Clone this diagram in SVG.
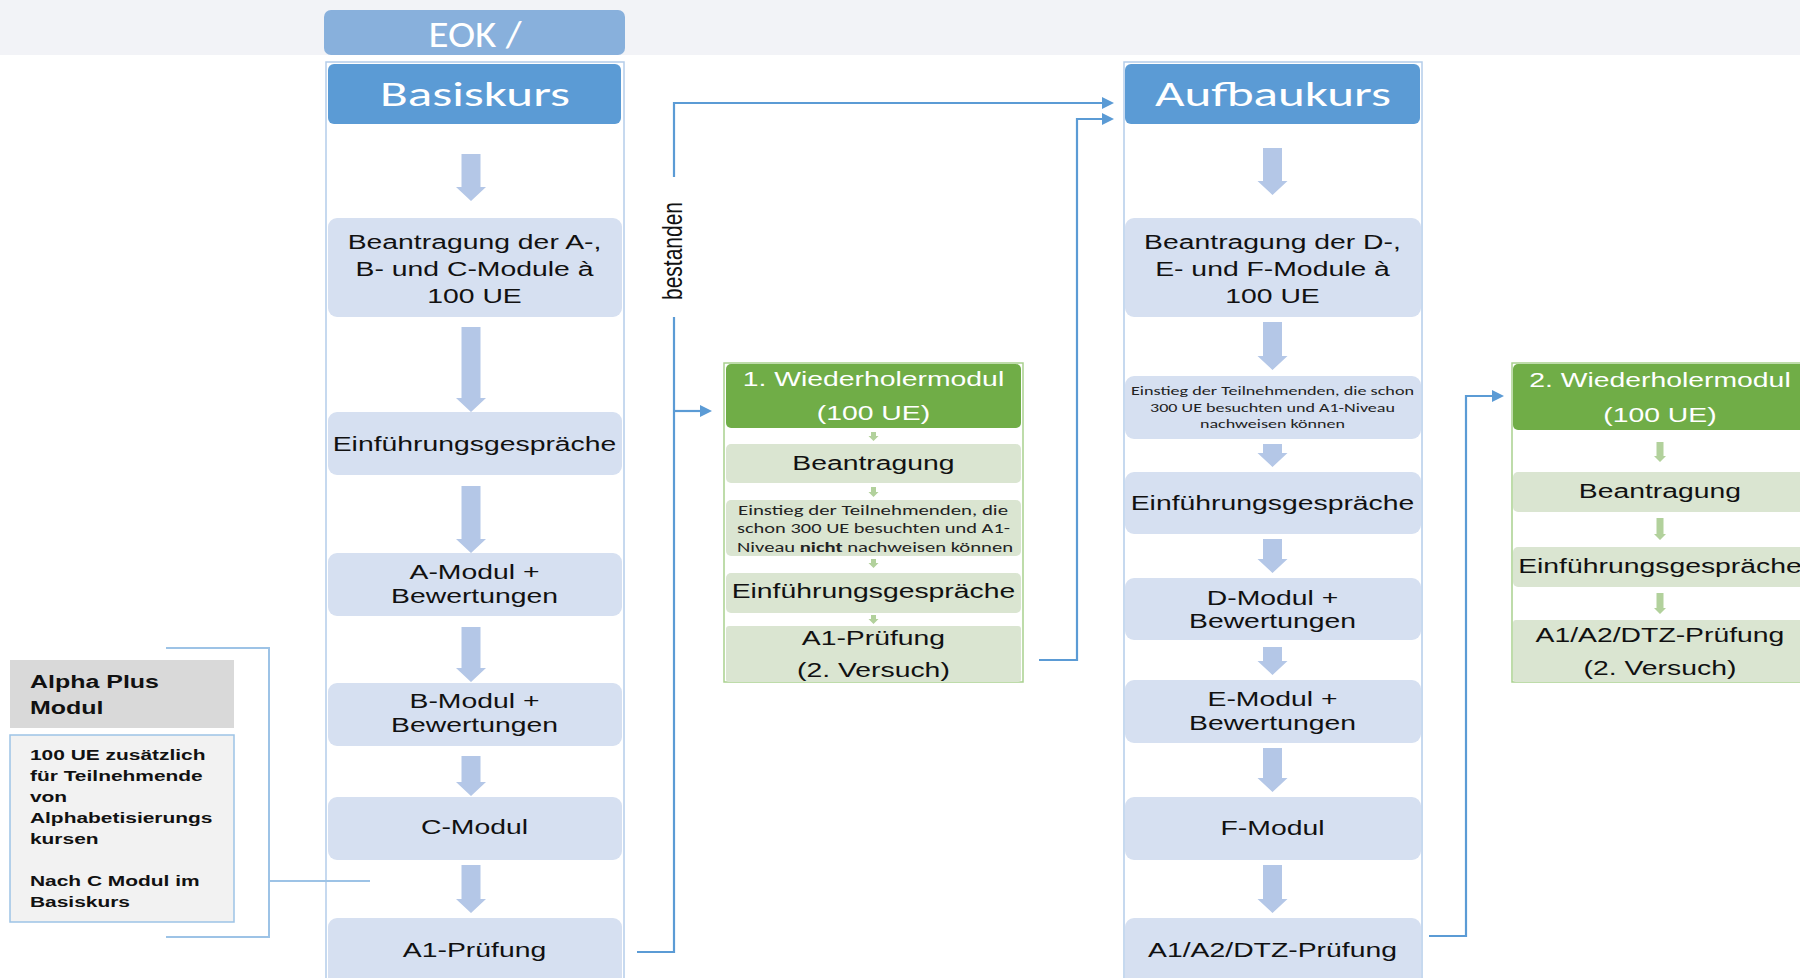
<svg xmlns="http://www.w3.org/2000/svg" width="1800" height="978" viewBox="0 0 1800 978">
<defs>
<style>
.t{font-family:"Liberation Sans",Arial,sans-serif;font-size:21px;fill:#111;text-anchor:middle}
.tw{font-family:"Liberation Sans",Arial,sans-serif;font-size:21px;fill:#fff;text-anchor:middle}
.h{font-family:Carlito,Lato,"Open Sans",sans-serif;fill:#fff;text-anchor:middle}
.s{font-family:Carlito,Lato,"Open Sans",sans-serif;fill:#222;text-anchor:middle}
.a{font-family:"Liberation Sans",Arial,sans-serif;font-weight:bold;fill:#111}
.box{fill:#d6e0f1}
.gbox{fill:#dae5d1}
.col{fill:none;stroke:#b4cdea;stroke-width:1.5}
.gcol{fill:#fff;stroke:#a9d18e;stroke-width:1.5}
.blk{fill:#b4c7e7}
.gar{fill:#b2d19c}
.con{fill:none;stroke:#5b9bd5;stroke-width:2.2}
.brk{fill:none;stroke:#9dc3e6;stroke-width:2}
</style>
<marker id="ah" markerUnits="userSpaceOnUse" markerWidth="12" markerHeight="12" refX="4" refY="6" orient="auto">
<path d="M0,0 L12,6 L0,12 Z" fill="#5b9bd5"/>
</marker>
</defs>
<rect x="0" y="0" width="1800" height="978" fill="#fff"/>
<rect x="0" y="0" width="1800" height="55" fill="#f2f3f7"/>

<g id="eok">
<rect x="324" y="10" width="301" height="45" rx="7" fill="#88b0dc"/>
<text class="h" x="475" y="47" font-size="36" textLength="93" lengthAdjust="spacingAndGlyphs">EOK /</text>
</g>

<g id="basiskurs">
<rect class="col" x="326" y="62" width="298" height="940"/>
<rect x="328" y="64" width="293" height="60" rx="6" fill="#5b9bd5"/>
<text class="h" x="475" y="106" font-size="34" textLength="190" lengthAdjust="spacingAndGlyphs">Basiskurs</text>
</g>

<g id="b1">
<rect class="box" x="328" y="218" width="294" height="99" rx="9"/>
<g transform="scale(1.35 1)">
<text class="t" x="351.5" y="249">Beantragung der A-,</text>
<text class="t" x="351.5" y="276">B- und C-Module à</text>
<text class="t" x="351.5" y="303">100 UE</text>
</g>
</g>
<g id="b2">
<rect class="box" x="328" y="412" width="294" height="63" rx="9"/>
<g transform="scale(1.35 1)"><text class="t" x="351.5" y="451">Einführungsgespräche</text></g>
</g>
<g id="b3">
<rect class="box" x="328" y="553" width="294" height="63" rx="9"/>
<g transform="scale(1.35 1)">
<text class="t" x="351.5" y="579">A-Modul +</text>
<text class="t" x="351.5" y="603">Bewertungen</text>
</g>
</g>
<g id="b4">
<rect class="box" x="328" y="683" width="294" height="63" rx="9"/>
<g transform="scale(1.35 1)">
<text class="t" x="351.5" y="708">B-Modul +</text>
<text class="t" x="351.5" y="732">Bewertungen</text>
</g>
</g>
<g id="b5">
<rect class="box" x="328" y="797" width="294" height="63" rx="9"/>
<g transform="scale(1.35 1)"><text class="t" x="351.5" y="834">C-Modul</text></g>
</g>
<g id="b6">
<rect class="box" x="328" y="918" width="294" height="80" rx="9"/>
<g transform="scale(1.35 1)"><text class="t" x="351.5" y="957">A1-Prüfung</text></g>
</g>

<g id="aufbaukurs">
<rect class="col" x="1124" y="62" width="298" height="940"/>
<rect x="1125" y="64" width="295" height="60" rx="6" fill="#5b9bd5"/>
<text class="h" x="1273" y="106" font-size="34" textLength="236" lengthAdjust="spacingAndGlyphs">Aufbaukurs</text>
</g>

<g id="a1">
<rect class="box" x="1125" y="218" width="296" height="99" rx="9"/>
<g transform="scale(1.35 1)">
<text class="t" x="942.6" y="249">Beantragung der D-,</text>
<text class="t" x="942.6" y="276">E- und F-Module à</text>
<text class="t" x="942.6" y="303">100 UE</text>
</g>
</g>
<g id="a2">
<rect class="box" x="1125" y="376" width="296" height="63" rx="9"/>
<text class="s" x="1272.5" y="395" font-size="13" textLength="283" lengthAdjust="spacingAndGlyphs">Einstieg der Teilnehmenden, die schon</text>
<text class="s" x="1272.5" y="411.5" font-size="13" textLength="245" lengthAdjust="spacingAndGlyphs">300 UE besuchten und A1-Niveau</text>
<text class="s" x="1272.5" y="428" font-size="13" textLength="145" lengthAdjust="spacingAndGlyphs">nachweisen können</text>
</g>
<g id="a3">
<rect class="box" x="1125" y="472" width="296" height="62" rx="9"/>
<g transform="scale(1.35 1)"><text class="t" x="942.6" y="510">Einführungsgespräche</text></g>
</g>
<g id="a4">
<rect class="box" x="1125" y="578" width="296" height="62" rx="9"/>
<g transform="scale(1.35 1)">
<text class="t" x="942.6" y="605">D-Modul +</text>
<text class="t" x="942.6" y="628">Bewertungen</text>
</g>
</g>
<g id="a5">
<rect class="box" x="1125" y="680" width="296" height="63" rx="9"/>
<g transform="scale(1.35 1)">
<text class="t" x="942.6" y="706">E-Modul +</text>
<text class="t" x="942.6" y="730">Bewertungen</text>
</g>
</g>
<g id="a6">
<rect class="box" x="1125" y="797" width="296" height="63" rx="9"/>
<g transform="scale(1.35 1)"><text class="t" x="942.6" y="835" font-size="22.5">F-Modul</text></g>
</g>
<g id="a7">
<rect class="box" x="1125" y="918" width="296" height="80" rx="9"/>
<g transform="scale(1.35 1)"><text class="t" x="942.6" y="957" font-size="22.5">A1/A2/DTZ-Prüfung</text></g>
</g>

<g id="wiederholer1">
<rect class="gcol" x="724" y="363" width="299" height="319"/>
<rect x="726" y="364" width="295" height="64" rx="5" fill="#70ad47"/>
<g transform="scale(1.35 1)">
<text class="tw" x="647" y="386">1. Wiederholermodul</text>
<text class="tw" x="647" y="420">(100 UE)</text>
</g>
</g>
<g id="w1a">
<rect class="gbox" x="726" y="444" width="295" height="39" rx="5"/>
<g transform="scale(1.35 1)"><text class="t" x="647" y="470">Beantragung</text></g>
</g>
<g id="w1b">
<rect class="gbox" x="726" y="500" width="295" height="56" rx="5"/>
<text class="s" x="873" y="515" font-size="14" textLength="270" lengthAdjust="spacingAndGlyphs">Einstieg der Teilnehmenden, die</text>
<text class="s" x="873.5" y="533" font-size="14" textLength="273" lengthAdjust="spacingAndGlyphs">schon 300 UE besuchten und A1-</text>
<text class="s" x="875" y="552" font-size="14" textLength="276" lengthAdjust="spacingAndGlyphs">Niveau <tspan font-weight="bold">nicht</tspan> nachweisen können</text>
</g>
<g id="w1c">
<rect class="gbox" x="726" y="573" width="295" height="40" rx="5"/>
<g transform="scale(1.35 1)"><text class="t" x="647" y="598">Einführungsgespräche</text></g>
</g>
<g id="w1d">
<rect class="gbox" x="726" y="626" width="295" height="56" rx="3"/>
<g transform="scale(1.35 1)">
<text class="t" x="647" y="645">A1-Prüfung</text>
<text class="t" x="647" y="677">(2. Versuch)</text>
</g>
</g>

<g id="wiederholer2">
<rect class="gcol" x="1512" y="363" width="300" height="319"/>
<rect x="1513" y="364" width="300" height="66" rx="5" fill="#70ad47"/>
<g transform="scale(1.35 1)">
<text class="tw" x="1229.6" y="387">2. Wiederholermodul</text>
<text class="tw" x="1229.6" y="422">(100 UE)</text>
</g>
</g>
<g id="w2a">
<rect class="gbox" x="1513" y="472" width="300" height="40" rx="5"/>
<g transform="scale(1.35 1)"><text class="t" x="1229.6" y="498">Beantragung</text></g>
</g>
<g id="w2b">
<rect class="gbox" x="1513" y="547" width="300" height="40" rx="5"/>
<g transform="scale(1.35 1)"><text class="t" x="1229.6" y="573">Einführungsgespräche</text></g>
</g>
<g id="w2c">
<rect class="gbox" x="1513" y="620" width="300" height="62" rx="3"/>
<g transform="scale(1.35 1)">
<text class="t" x="1229.6" y="642">A1/A2/DTZ-Prüfung</text>
<text class="t" x="1229.6" y="675">(2. Versuch)</text>
</g>
</g>

<g id="alpha-title">
<rect x="10" y="660" width="224" height="68" fill="#d9d9d9"/>
<g transform="scale(1.35 1)">
<text class="a" x="22.2" y="688" font-size="18.5">Alpha Plus</text>
<text class="a" x="22.2" y="714" font-size="18.5">Modul</text>
</g>
</g>
<g id="alpha-body">
<rect x="10" y="735" width="224" height="187" fill="#f2f2f2" stroke="#9dc3e6" stroke-width="1.5"/>
<g transform="scale(1.35 1)" font-size="15.5">
<text class="a" x="22.2" y="760">100 UE zusätzlich</text>
<text class="a" x="22.2" y="781">für Teilnehmende</text>
<text class="a" x="22.2" y="802">von</text>
<text class="a" x="22.2" y="823">Alphabetisierungs</text>
<text class="a" x="22.2" y="844">kursen</text>
<text class="a" x="22.2" y="886">Nach C Modul im</text>
<text class="a" x="22.2" y="907">Basiskurs</text>
</g>
</g>

<g id="connectors">
<path class="blk" d="M461.5 154 H480.5 V187 H486 L471 201 L456 187 H461.5 Z"/>
<path class="blk" d="M461.5 327 H480.5 V398 H486 L471 412 L456 398 H461.5 Z"/>
<path class="blk" d="M461.5 486 H480.5 V539 H486 L471 553 L456 539 H461.5 Z"/>
<path class="blk" d="M461.5 627 H480.5 V668 H486 L471 682 L456 668 H461.5 Z"/>
<path class="blk" d="M461.5 756 H480.5 V782 H486 L471 796 L456 782 H461.5 Z"/>
<path class="blk" d="M461.5 865 H480.5 V899 H486 L471 913 L456 899 H461.5 Z"/>

<path class="blk" d="M1263 148 H1282 V181 H1287.5 L1272.5 195 L1257.5 181 H1263 Z"/>
<path class="blk" d="M1263 322 H1282 V356 H1287.5 L1272.5 370 L1257.5 356 H1263 Z"/>
<path class="blk" d="M1263 444 H1282 V453 H1287.5 L1272.5 467 L1257.5 453 H1263 Z"/>
<path class="blk" d="M1263 539 H1282 V559 H1287.5 L1272.5 573 L1257.5 559 H1263 Z"/>
<path class="blk" d="M1263 647 H1282 V661 H1287.5 L1272.5 675 L1257.5 661 H1263 Z"/>
<path class="blk" d="M1263 748 H1282 V778 H1287.5 L1272.5 792 L1257.5 778 H1263 Z"/>
<path class="blk" d="M1263 865 H1282 V899 H1287.5 L1272.5 913 L1257.5 899 H1263 Z"/>

<path class="gar" d="M871 432 H876 V436 H878.5 L873.5 441 L868.5 436 H871 Z"/>
<path class="gar" d="M871 487 H876 V492 H878.5 L873.5 497 L868.5 492 H871 Z"/>
<path class="gar" d="M871 559 H876 V563 H878.5 L873.5 568 L868.5 563 H871 Z"/>
<path class="gar" d="M871 615 H876 V619 H878.5 L873.5 624 L868.5 619 H871 Z"/>

<path class="gar" d="M1656.5 442 H1663.5 V456 H1666 L1660 462 L1654 456 H1656.5 Z"/>
<path class="gar" d="M1656.5 518 H1663.5 V534 H1666 L1660 540 L1654 534 H1656.5 Z"/>
<path class="gar" d="M1656.5 593 H1663.5 V608 H1666 L1660 614 L1654 608 H1656.5 Z"/>

<path class="con" d="M637 952 H674 V317"/>
<path class="con" d="M674 177 V103 H1106" marker-end="url(#ah)"/>
<path class="con" d="M674 411 H704" marker-end="url(#ah)"/>
<path class="con" d="M1039 660 H1077 V119 H1106" marker-end="url(#ah)"/>
<path class="con" d="M1429 936 H1466 V396 H1496" marker-end="url(#ah)"/>
<text class="t" font-size="20.5" transform="translate(682 251) scale(1.35 1) rotate(-90)" x="0" y="0">bestanden</text>

<path class="brk" d="M166 648 H269 V937 H166"/>
<path class="brk" d="M269 881 H370"/>
</g>
</svg>
